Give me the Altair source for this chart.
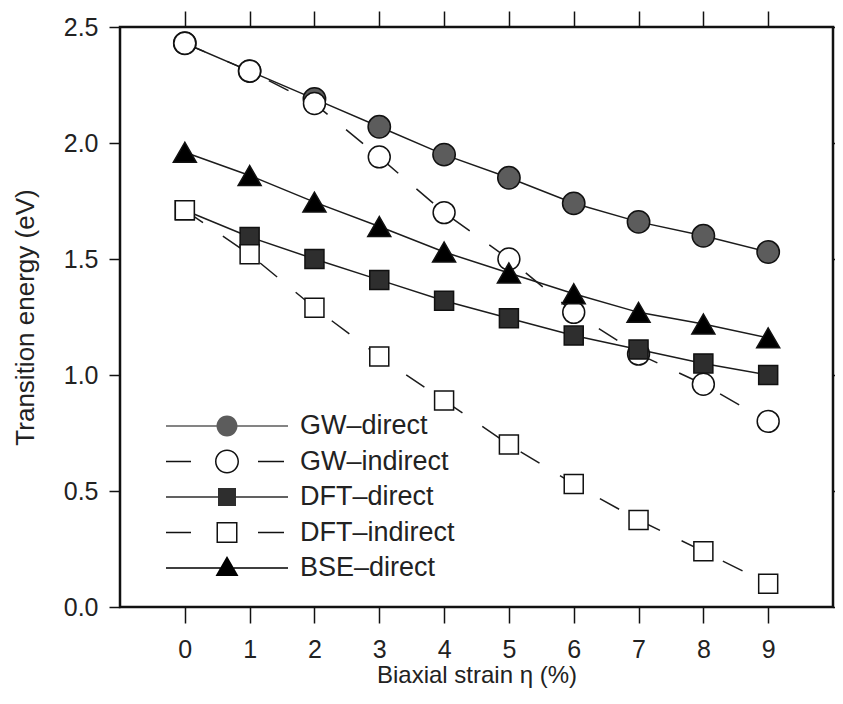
import altair as alt
import pandas as pd

# ---- data ----
strain = [0, 1, 2, 3, 4, 5, 6, 7, 8, 9]
series_names = ["GW–direct", "GW–indirect", "DFT–direct", "DFT–indirect", "BSE–direct"]
gw_direct = [2.43, 2.31, 2.19, 2.07, 1.95, 1.85, 1.74, 1.66, 1.60, 1.53]
gw_indirect = [2.43, 2.31, 2.17, 1.94, 1.70, 1.50, 1.27, 1.09, 0.96, 0.80]
dft_direct = [1.71, 1.595, 1.50, 1.41, 1.32, 1.245, 1.17, 1.11, 1.05, 1.00]
dft_indirect = [1.71, 1.52, 1.29, 1.08, 0.89, 0.70, 0.53, 0.375, 0.24, 0.10]
bse_direct = [1.96, 1.86, 1.745, 1.64, 1.53, 1.44, 1.35, 1.27, 1.22, 1.16]
y_ticks = [0.0, 0.5, 1.0, 1.5, 2.0, 2.5]

series_values = [gw_direct, gw_indirect, dft_direct, dft_indirect, bse_direct]
rows = []
for name, vals in zip(series_names, series_values):
    for xv, yv in zip(strain, vals):
        rows.append({"strain": xv, "energy": yv, "series": name})
df = pd.DataFrame(rows)

FONT = "Liberation Sans"
INK = "#111111"
TXT = "#222222"

x_scale = alt.Scale(domain=[-1, 10], nice=False, zero=False)
y_scale = alt.Scale(domain=[0, 2.5], nice=False)

dashed = [False, True, False, True, False]
marker_shapes = ["circle", "circle", "square", "square", "triangle-up"]
marker_fills = ["#5c5c5c", "#ffffff", "#2e2e2e", "#ffffff", "#000000"]
marker_sizes = [500, 480, 361, 361, 529]
legend_fills = ["#5c5c5c", "#111111", "#2e2e2e", "#111111", "#000000"]


# legend symbol geometry drawn as filled outlines (unit = sqrt(symbolSize)/2 px)
def circ(r):  # clockwise disc
    k = round(0.5523 * r, 3)
    return (f"M{-r},0C{-r},{-k},{-k},{-r},0,{-r}C{k},{-r},{r},{-k},{r},0"
            f"C{r},{k},{k},{r},0,{r}C{-k},{r},{-r},{k},{-r},0Z")


def circ_hole(r):  # counter-clockwise disc (cuts a hole)
    k = round(0.5523 * r, 3)
    return (f"M{-r},0C{-r},{k},{-k},{r},0,{r}C{k},{r},{r},{k},{r},0"
            f"C{r},{-k},{k},{-r},0,{-r}C{-k},{-r},{-r},{-k},{-r},0Z")


def sq(h):
    return f"M{-h},{-h}L{h},{-h}L{h},{h}L{-h},{h}Z"


def sq_hole(h):
    return f"M{-h},{-h}L{-h},{h}L{h},{h}L{h},{-h}Z"


def bar(a, b, t=0.075):
    return f"M{a},{-t}L{b},{-t}L{b},{t}L{a},{t}Z"


legend_paths = [
    bar(-6.1, 6.1) + circ(1.05),
    bar(-6.1, -3.6) + bar(3.1, 5.7) + circ(1.2) + circ_hole(1.05),
    bar(-6.1, 6.1) + sq(0.9),
    bar(-6.1, -3.6) + bar(3.1, 5.7) + sq(1.05) + sq_hole(0.9),
    bar(-6.1, 6.1) + "M0,-1.2L1.15,0.8L-1.15,0.8Z",
]

layers = []

# connecting lines, one layer per series
for i, name in enumerate(series_names):
    if i == 0:
        xax = alt.Axis(orient="bottom", values=strain, title="Biaxial strain η (%)",
                       tickSize=16, labelPadding=14, titlePadding=1)
        yax = alt.Axis(orient="left", values=y_ticks, format=".1f",
                       title="Transition energy (eV)", titleFontSize=26,
                       tickSize=11, labelPadding=11, titlePadding=25)
    elif i == 1:
        xax = alt.Axis(orient="top", values=strain, labels=False, title=None,
                       tickSize=16, ticks=True)
        yax = alt.Axis(orient="right", values=y_ticks, labels=False, title=None, tickSize=4)
    else:
        xax = None
        yax = None
    mk = dict(strokeWidth=1.5, color="#1c1c1c")
    if dashed[i]:
        mk["strokeDash"] = [22, 24]
    layers.append(
        alt.Chart(df).transform_filter(alt.datum.series == name).mark_line(**mk).encode(
            x=alt.X("strain:Q", scale=x_scale, axis=xax),
            y=alt.Y("energy:Q", scale=y_scale, axis=yax),
        )
    )

# markers, one layer per series (drawn in series order)
for i, name in enumerate(series_names):
    layers.append(
        alt.Chart(df).transform_filter(alt.datum.series == name).mark_point(
            filled=True, opacity=1, stroke=INK, strokeWidth=1.5,
            shape=marker_shapes[i], fill=marker_fills[i], size=marker_sizes[i],
        ).encode(
            x=alt.X("strain:Q", scale=x_scale, axis=None),
            y=alt.Y("energy:Q", scale=y_scale, axis=None),
        )
    )

leg = alt.Legend(title=None, orient="none", legendX=93.5, legendY=385.5, padding=0,
                 labelFont=FONT, labelFontSize=27, labelColor=TXT, labelOffset=59.5,
                 labelLimit=400, symbolSize=400, symbolStrokeWidth=0,
                 symbolOpacity=1, rowPadding=7.5)

# invisible layer that only supplies the legend
layers.append(
    alt.Chart(df).mark_point(filled=True, opacity=0, size=1).encode(
        x=alt.X("strain:Q", scale=x_scale, axis=None),
        y=alt.Y("energy:Q", scale=y_scale, axis=None),
        shape=alt.Shape("series:N",
                        scale=alt.Scale(domain=series_names, range=legend_paths), legend=leg),
        fill=alt.Fill("series:N",
                      scale=alt.Scale(domain=series_names, range=legend_fills), legend=leg),
    )
)

chart = alt.layer(*layers).resolve_axis(
    x="independent", y="independent"
).properties(
    width=713, height=580,
    autosize=alt.AutoSizeParams(type="none"),
    padding={"left": 112, "top": 19, "right": 2, "bottom": 84},
).configure_view(
    stroke=INK, strokeWidth=2.5
).configure_axis(
    labelFont=FONT, titleFont=FONT, labelFontSize=25, titleFontSize=24,
    labelColor=TXT, titleColor=TXT, tickColor=INK, tickWidth=1.5,
    domain=False, grid=False, titleFontWeight="normal",
)

chart.save("out.html", embed_options={"renderer": "svg", "actions": False})
